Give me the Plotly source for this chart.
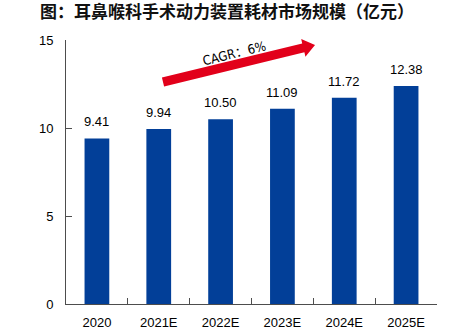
import plotly.graph_objects as go

# Market size of ENT surgical power-device consumables (100 million CNY)
years = ["2020", "2021E", "2022E", "2023E", "2024E", "2025E"]
market_size = [9.41, 9.94, 10.50, 11.09, 11.72, 12.38]
y_ticks = [0, 5, 10, 15]
cagr_label = "CAGR：6%"
title_text = "图：耳鼻喉科手术动力装置耗材市场规模（亿元）"

W, H = 468, 327
L, R, T, B = 66, 31, 40, 23
PW, PH = W - L - R, H - T - B

BAR_COLOR = "#023f98"
AXIS_COLOR = "#4d4d4d"
LATIN = "Liberation Sans, Arial, sans-serif"


def px_to_paper(px, py):
    return (px - L) / PW, (H - B - py) / PH


fig = go.Figure(
    go.Bar(
        x=years,
        y=market_size,
        marker=dict(color=BAR_COLOR, line=dict(width=0)),
        width=0.4,
        hoverinfo="x+y",
    )
)

# value labels above each bar (x given as category index)
for i, v in enumerate(market_size):
    fig.add_annotation(
        x=i, y=v, text=f"{v:.2f}", showarrow=False,
        yanchor="bottom", yshift=7,
        font=dict(family=LATIN, size=13, color="#000000"),
    )

# red growth arrow drawn as a filled polygon (pixel layout -> paper coords)
arrow_px = [
    (164.1, 86.4), (304.4, 52.2), (305.4, 56.8), (315.0, 45.0),
    (301.2, 39.0), (302.2, 43.4), (161.9, 77.6),
]
pts = [px_to_paper(x, y) for x, y in arrow_px]
path = "M " + " L ".join(f"{x:.4f},{y:.4f}" for x, y in pts) + " Z"
fig.add_shape(
    type="path", path=path, xref="paper", yref="paper",
    fillcolor="#e2001a", line=dict(width=0), layer="above",
)

cx, cy = px_to_paper(234, 36)
fig.add_annotation(
    x=cx, y=cy, xref="paper", yref="paper", text=cagr_label,
    showarrow=False, textangle=-14,
    font=dict(family="DejaVu Sans Condensed, Noto Sans CJK SC", size=13, color="#000000"),
)

fig.update_layout(
    width=W, height=H,
    margin=dict(l=L, r=R, t=T, b=B, autoexpand=False),
    paper_bgcolor="white", plot_bgcolor="white",
    showlegend=False,
    title=dict(
        text=title_text, x=40 / W, xanchor="left", y=1 - 12 / H, yanchor="middle",
        font=dict(family="Noto Sans CJK SC", size=17, color="#111111", weight="bold"),
    ),
    xaxis=dict(
        type="category", categoryorder="array", categoryarray=years,
        range=[-0.5, len(years) - 0.5], automargin=False,
        showline=True, linecolor=AXIS_COLOR, linewidth=1,
        ticks="inside", tickson="boundaries", ticklen=6, tickcolor=AXIS_COLOR,
        tickangle=0,
        showgrid=False, zeroline=False,
        tickfont=dict(family=LATIN, size=13, color="#000000"),
        ticklabelstandoff=6,
    ),
    yaxis=dict(
        range=[0, 15], tickvals=y_ticks, automargin=False,
        showline=True, linecolor=AXIS_COLOR, linewidth=1,
        ticks="inside", ticklen=6, tickcolor=AXIS_COLOR,
        showgrid=False, zeroline=False,
        tickfont=dict(family=LATIN, size=13, color="#000000"),
        ticklabelstandoff=9,
    ),
)

fig.write_html("out.html")
